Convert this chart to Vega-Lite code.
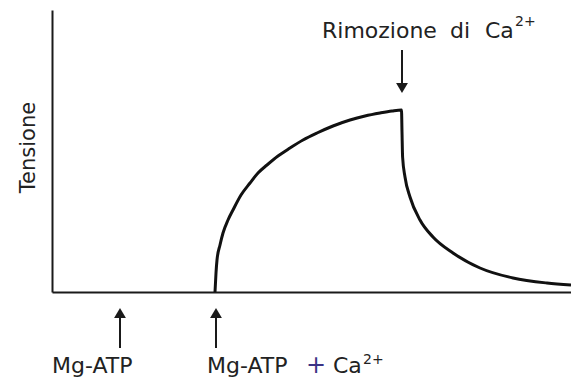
{
  "$schema": "https://vega.github.io/schema/vega-lite/v6.json",
  "width": 519,
  "height": 282,
  "autosize": {"type": "none"},
  "padding": {"left": 52, "top": 10, "right": 0, "bottom": 91},
  "background": "#ffffff",
  "config": {
    "view": {"stroke": null},
    "axis": {"domain": true, "ticks": false, "labels": false, "grid": false, "title": null, "domainColor": "#1a1a1a", "domainWidth": 2},
    "text": {"font": "DejaVu Sans", "fontSize": 22, "color": "#222222"}
  },
  "datasets": {
    "curve": [
      {"t": 163, "tension": 0}, {"t": 164, "tension": 19}, {"t": 165, "tension": 32}, {"t": 168, "tension": 47},
      {"t": 171, "tension": 59}, {"t": 176, "tension": 72}, {"t": 181, "tension": 82}, {"t": 189, "tension": 97},
      {"t": 198, "tension": 109}, {"t": 206, "tension": 119}, {"t": 215, "tension": 127}, {"t": 226, "tension": 136},
      {"t": 238, "tension": 144}, {"t": 251, "tension": 152}, {"t": 265, "tension": 159}, {"t": 281, "tension": 166},
      {"t": 298, "tension": 172}, {"t": 313, "tension": 176}, {"t": 328, "tension": 179}, {"t": 340, "tension": 181},
      {"t": 349.5, "tension": 182}, {"t": 350, "tension": 160}, {"t": 350.6, "tension": 135}, {"t": 353, "tension": 115},
      {"t": 358, "tension": 95}, {"t": 368, "tension": 72}, {"t": 381, "tension": 55}, {"t": 401, "tension": 39},
      {"t": 428, "tension": 24}, {"t": 461, "tension": 14}, {"t": 495, "tension": 9}, {"t": 519, "tension": 7}
    ],
    "arrows": [
      {"x": 68, "tail": -56, "base": -22, "head": -21, "dir": "up"},
      {"x": 164, "tail": -56, "base": -22, "head": -21, "dir": "up"},
      {"x": 350, "tail": 242, "base": 205, "head": 204, "dir": "down"}
    ],
    "labels": [
      {"x": 0, "y": -81, "label": "Mg-ATP"},
      {"x": 155, "y": -81, "label": "Mg-ATP"},
      {"x": 281, "y": -81, "label": "Ca"},
      {"x": 270, "y": 254, "label": "Rimozione"},
      {"x": 398, "y": 254, "label": "di"},
      {"x": 433, "y": 254, "label": "Ca"}
    ],
    "sups": [
      {"x": 311, "y": -72, "label": "2+"},
      {"x": 463, "y": 266, "label": "2+"}
    ],
    "plus": [{"x": 264, "y": -81, "label": "+"}],
    "ytitle": [{"x": -17, "y": 144.5, "label": "Tensione"}]
  },
  "layer": [
    {
      "data": {"name": "curve"},
      "mark": {"type": "line", "interpolate": "monotone", "color": "#111111", "strokeWidth": 3, "clip": false},
      "encoding": {
        "x": {"field": "t", "type": "quantitative", "scale": {"domain": [0, 519], "nice": false, "zero": false}, "axis": {"title": null}},
        "y": {"field": "tension", "type": "quantitative", "scale": {"domain": [0, 282], "nice": false, "zero": false}, "axis": {"title": null}}
      }
    },
    {
      "data": {"name": "arrows"},
      "mark": {"type": "rule", "color": "#1a1a1a", "strokeWidth": 2},
      "encoding": {
        "x": {"field": "x", "type": "quantitative"},
        "y": {"field": "tail", "type": "quantitative"},
        "y2": {"field": "base"}
      }
    },
    {
      "data": {"name": "arrows"},
      "mark": {"type": "point", "filled": true, "color": "#1a1a1a", "opacity": 1, "size": 140},
      "encoding": {
        "x": {"field": "x", "type": "quantitative"},
        "y": {"field": "head", "type": "quantitative"},
        "shape": {"field": "dir", "type": "nominal", "scale": {"domain": ["up", "down"], "range": ["triangle-up", "triangle-down"]}, "legend": null}
      }
    },
    {
      "data": {"name": "labels"},
      "mark": {"type": "text", "align": "left", "baseline": "alphabetic"},
      "encoding": {
        "x": {"field": "x", "type": "quantitative"},
        "y": {"field": "y", "type": "quantitative"},
        "text": {"field": "label"}
      }
    },
    {
      "data": {"name": "sups"},
      "mark": {"type": "text", "align": "left", "baseline": "alphabetic", "fontSize": 14},
      "encoding": {
        "x": {"field": "x", "type": "quantitative"},
        "y": {"field": "y", "type": "quantitative"},
        "text": {"field": "label"}
      }
    },
    {
      "data": {"name": "plus"},
      "mark": {"type": "text", "align": "center", "baseline": "alphabetic", "color": "#3b3385", "fontSize": 24},
      "encoding": {
        "x": {"field": "x", "type": "quantitative"},
        "y": {"field": "y", "type": "quantitative"},
        "text": {"field": "label"}
      }
    },
    {
      "data": {"name": "ytitle"},
      "mark": {"type": "text", "align": "center", "baseline": "alphabetic", "angle": 270, "fontSize": 21},
      "encoding": {
        "x": {"field": "x", "type": "quantitative"},
        "y": {"field": "y", "type": "quantitative"},
        "text": {"field": "label"}
      }
    }
  ]
}
